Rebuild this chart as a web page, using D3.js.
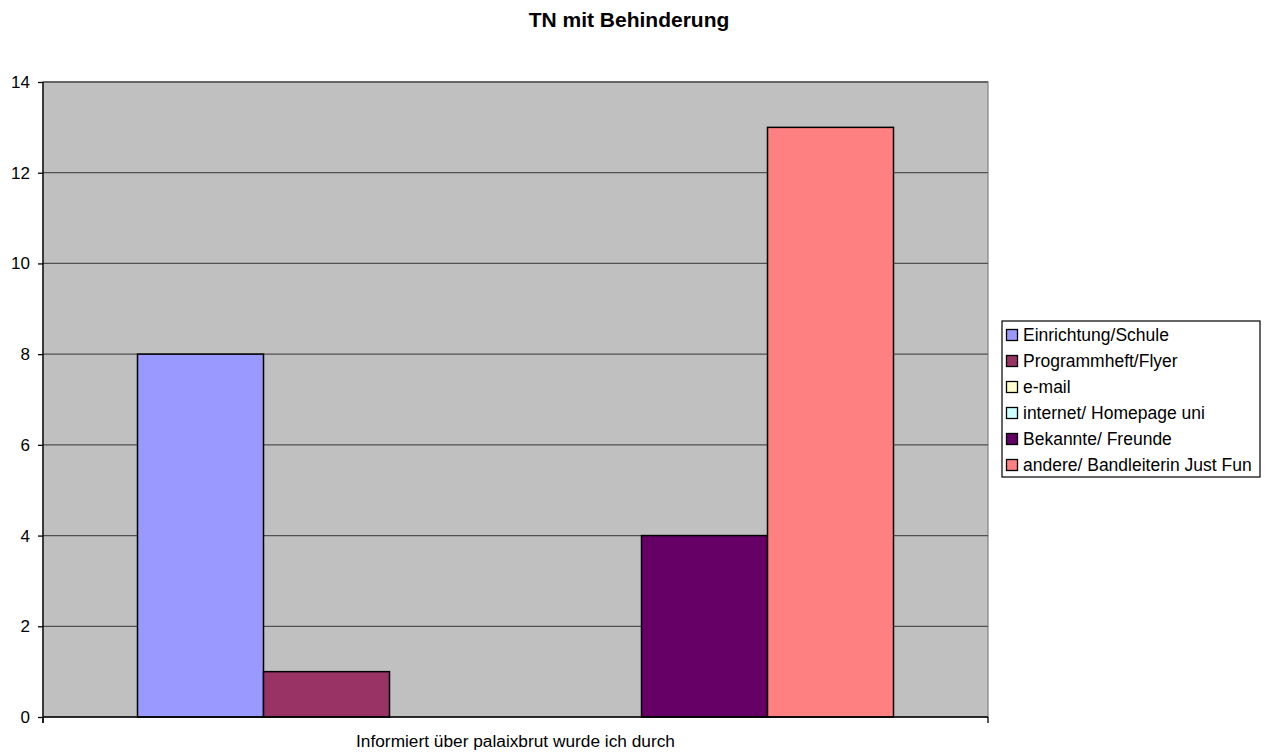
<!DOCTYPE html>
<html>
<head>
<meta charset="utf-8">
<script src="https://cdn.jsdelivr.net/npm/d3@7"></script>
<style>
  html, body { margin: 0; padding: 0; background: #fff; }
  svg { display: block; font-family: Arial, "Liberation Sans", sans-serif; }
</style>
</head>
<body>
<svg id="chart" width="1265" height="753"></svg>
<script>
// Survey answers: how participants heard about the event
const categories = ["Informiert über palaixbrut wurde ich durch"];
const seriesNames = [
  "Einrichtung/Schule",
  "Programmheft/Flyer",
  "e-mail",
  "internet/ Homepage uni",
  "Bekannte/ Freunde",
  "andere/ Bandleiterin Just Fun"
];
const seriesValues = [8, 1, 0, 0, 4, 13];
const seriesColors = ["#9999FF", "#993366", "#FFFFCC", "#CCFFFF", "#660066", "#FF8080"];
const yTicks = [0, 2, 4, 6, 8, 10, 12, 14];
const title = "TN mit Behinderung";

const svg = d3.select("#chart");
const plot = { left: 43, right: 988, top: 82, bottom: 717 };

// Scales
const x0 = d3.scaleBand()
  .domain(categories)
  .range([plot.left, plot.right])
  .paddingInner(0)
  .paddingOuter(0.125);

const x1 = d3.scaleBand()
  .domain(seriesNames)
  .range([0, x0.bandwidth()])
  .padding(0);

const y = d3.scaleLinear()
  .domain([0, 14])
  .range([plot.bottom, plot.top]);

// Plot background
svg.append("rect")
  .attr("x", plot.left)
  .attr("y", plot.top)
  .attr("width", plot.right - plot.left)
  .attr("height", plot.bottom - plot.top)
  .attr("fill", "#C0C0C0")
  .attr("stroke", "#808080")
  .attr("stroke-width", 1.2);

// Horizontal gridlines
svg.append("g")
  .selectAll("line")
  .data(yTicks.filter(d => d > 0))
  .join("line")
  .attr("x1", plot.left)
  .attr("x2", plot.right)
  .attr("y1", d => y(d))
  .attr("y2", d => y(d))
  .attr("stroke", "#505050")
  .attr("stroke-width", 1.3);

// Bars
const groups = svg.append("g")
  .selectAll("g")
  .data(categories)
  .join("g")
  .attr("transform", d => `translate(${x0(d)},0)`);

groups.selectAll("rect")
  .data(() => seriesNames.map((name, i) => ({ name, value: seriesValues[i], color: seriesColors[i] })))
  .join("rect")
  .filter(d => d.value > 0)
  .attr("x", d => x1(d.name))
  .attr("y", d => y(d.value))
  .attr("width", x1.bandwidth())
  .attr("height", d => y(0) - y(d.value))
  .attr("fill", d => d.color)
  .attr("stroke", "#000")
  .attr("stroke-width", 1.5);

// Y axis
const yAxis = d3.axisLeft(y)
  .tickValues(yTicks)
  .tickSize(5)
  .tickPadding(8)
  .tickFormat(d3.format("d"));

const yg = svg.append("g")
  .attr("transform", `translate(${plot.left},0)`)
  .call(yAxis);
yg.select(".domain").attr("stroke", "#000").attr("stroke-width", 1.3)
  .attr("d", `M0,${plot.top}V${plot.bottom + 6}`);
yg.selectAll(".tick line").attr("stroke", "#000").attr("stroke-width", 1.3);
yg.selectAll(".tick text")
  .attr("fill", "#000")
  .style("font-size", "17px")
  .style("font-family", "Arial, 'Liberation Sans', sans-serif");

// X axis: baseline with boundary ticks
const xg = svg.append("g");
xg.append("line")
  .attr("x1", plot.left)
  .attr("x2", plot.right)
  .attr("y1", y(0))
  .attr("y2", y(0))
  .attr("stroke", "#000")
  .attr("stroke-width", 1.5);
xg.selectAll("line.boundary")
  .data([plot.left, plot.right])
  .join("line")
  .attr("class", "boundary")
  .attr("x1", d => d)
  .attr("x2", d => d)
  .attr("y1", y(0))
  .attr("y2", y(0) + 6)
  .attr("stroke", "#000")
  .attr("stroke-width", 1.3);

// Category label
svg.append("g")
  .selectAll("text")
  .data(categories)
  .join("text")
  .attr("x", d => x0(d) + x0.bandwidth() / 2)
  .attr("y", 747)
  .attr("text-anchor", "middle")
  .style("font-size", "17.3px")
  .attr("fill", "#000")
  .text(d => d);

// Title
svg.append("text")
  .attr("x", 629)
  .attr("y", 27)
  .attr("text-anchor", "middle")
  .style("font-size", "21px")
  .style("font-weight", "bold")
  .attr("fill", "#000")
  .text(title);

// Legend
const legend = { x: 1002, y: 321, w: 258, rowH: 26 };
svg.append("rect")
  .attr("x", legend.x)
  .attr("y", legend.y)
  .attr("width", legend.w)
  .attr("height", legend.rowH * seriesNames.length)
  .attr("fill", "#fff")
  .attr("stroke", "#000")
  .attr("stroke-width", 1.2);

const items = svg.append("g")
  .selectAll("g")
  .data(seriesNames)
  .join("g")
  .attr("transform", (d, i) => `translate(${legend.x}, ${legend.y + legend.rowH * i + 14})`);

items.append("rect")
  .attr("x", 4.5)
  .attr("y", -5.5)
  .attr("width", 11)
  .attr("height", 11)
  .attr("fill", (d, i) => seriesColors[i])
  .attr("stroke", "#000")
  .attr("stroke-width", 1.3);

items.append("text")
  .attr("x", 21)
  .attr("y", 6)
  .style("font-size", "17.5px")
  .attr("fill", "#000")
  .text(d => d);
</script>
</body>
</html>
